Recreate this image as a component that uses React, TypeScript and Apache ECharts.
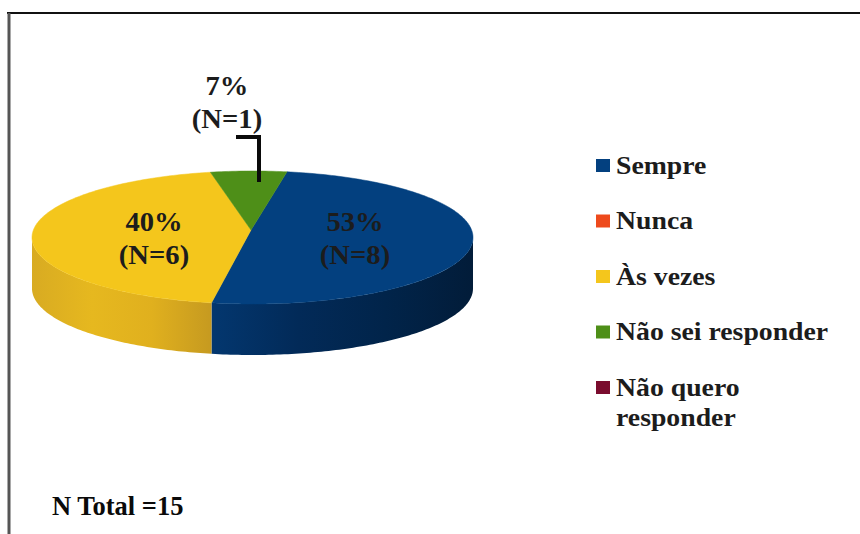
import React, { useEffect, useRef } from "react";
import * as echarts from "echarts";

const categories = ["Sempre", "Nunca", "Às vezes", "Não sei responder", "Não quero responder"];
const legendLines = [["Sempre"], ["Nunca"], ["Às vezes"], ["Não sei responder"], ["Não quero", "responder"]];
const values = [8, 0, 6, 1, 0];
const colors = ["#03407F", "#EE4A1C", "#F4C61C", "#4E8F18", "#7A0C2E"];
const wallStops: string[][] = [
  ["#03376F", "#022A58", "#01244A", "#021C39"],
  ["#333333", "#333333", "#333333", "#333333"],
  ["#D8AB22", "#E6B81F", "#E0B01E", "#C69A20"],
  ["#3A6C12", "#3A6C12", "#3A6C12", "#3A6C12"],
  ["#5A0A22", "#5A0A22", "#5A0A22", "#5A0A22"],
];
const totalLabel = "N Total =15";

const FONT = "'Liberation Serif', serif";
const total = values.reduce((a, b) => a + b, 0);
const START = 12;
const CX = 252.5, CY = 237.5, RX = 220.5, RY = 66.5, DEPTH = 51;
const APEX: [number, number] = [251, 230];

// view of the tilted disc: true pie angle to the angle on the screen ellipse
const view = (t: number) => {
  const r = (t * Math.PI) / 180;
  return t - 9.37 - 9.6 * Math.sin(r) + 8.56 * Math.cos(r);
};
const rim = (deg: number, drop = 0): [number, number] => {
  const r = (deg * Math.PI) / 180;
  return [CX + RX * Math.sin(r), CY - RY * Math.cos(r) + drop];
};
const arc = (a: number, b: number, drop = 0) => {
  const pts: [number, number][] = [];
  const n = Math.max(2, Math.ceil(Math.abs(b - a)));
  for (let i = 0; i <= n; i++) pts.push(rim(a + ((b - a) * i) / n, drop));
  return pts;
};

const renderItem = (params: any, api: any) => {
  const i = params.dataIndex;
  const v = api.value(0);
  if (!v) return { type: "group", children: [] };
  let before = 0;
  for (let k = 0; k < i; k++) before += values[k];
  const a = view(START + (before / total) * 360);
  const b = view(START + ((before + v) / total) * 360);
  const children: any[] = [];
  const wa = Math.max(a, 90), wb = Math.min(b, 270);
  if (wb > wa) {
    const stops = wallStops[i];
    children.push({
      type: "polygon",
      shape: { points: [...arc(wa, wb), ...arc(wb, wa, DEPTH)] },
      style: {
        fill: {
          type: "linear", x: 0, y: 0, x2: 1, y2: 0,
          colorStops: stops.map((color, j) => ({ offset: j / (stops.length - 1), color })),
        },
      },
    });
  }
  children.push({
    type: "polygon",
    shape: { points: [APEX, ...arc(a, b)] },
    style: { fill: colors[i], stroke: colors[i], lineWidth: 0.5 },
  });
  return { type: "group", children };
};

const pct = (i: number) => `${Math.round((values[i] / total) * 100)}%`;
const nLabel = (i: number) => `(N=${values[i]})`;
const sliceLabels = [
  { i: 0, x: 355, y: 222 },
  { i: 2, x: 154, y: 222 },
  { i: 3, x: 227, y: 86 },
];

const textStyle = (text: string, size: number, color = "#1c1c1c", align = "center") => ({
  text, fill: color, font: `bold ${size}px ${FONT}`, textAlign: align, textVerticalAlign: "middle",
});

const buildGraphic = () => {
  const els: any[] = [
    { type: "line", shape: { x1: 7, y1: 13, x2: 860, y2: 13 }, style: { stroke: "#111", lineWidth: 2 } },
    { type: "line", shape: { x1: 9, y1: 13, x2: 9, y2: 534 }, style: { stroke: "#555", lineWidth: 3 } },
    { type: "polyline", z: 10, shape: { points: [[236, 137], [259, 137], [259, 182]] }, style: { stroke: "#0a0a0a", lineWidth: 4, fill: "none" } },
    { type: "text", x: 52, y: 506, style: textStyle(totalLabel, 26.5, "#0a0a0a", "left") },
  ];
  sliceLabels.forEach(({ i, x, y }) => {
    els.push({ type: "text", z: 10, x, y, scaleX: 1.06, style: textStyle(pct(i), 27) });
    els.push({ type: "text", z: 10, x, y: y + 33, scaleX: 1.06, style: textStyle(nLabel(i), 27) });
  });
  legendLines.forEach((lines, i) => {
    const y = 165 + i * 55.5;
    els.push({ type: "rect", shape: { x: 596, y: y - 6, width: 14, height: 13 }, style: { fill: colors[i] } });
    lines.forEach((line, j) => {
      els.push({ type: "text", x: 616, y: y + j * 30, scaleX: 1.08, style: textStyle(line, 25.7, "#1c1c1c", "left") });
    });
  });
  return els;
};

export default function App() {
  const ref = useRef<HTMLDivElement>(null);
  useEffect(() => {
    document.body.style.margin = "0";
    const chart = echarts.init(ref.current!, null, { renderer: "svg" });
    chart.setOption({
      animation: false,
      backgroundColor: "#fff",
      series: [
        {
          type: "custom",
          coordinateSystem: "none",
          renderItem,
          data: categories.map((name, i) => ({ name, value: [values[i]] })),
        },
      ],
      graphic: { elements: buildGraphic() },
    });
    return () => chart.dispose();
  }, []);
  return <div ref={ref} style={{ width: 860, height: 534 }} />;
}
